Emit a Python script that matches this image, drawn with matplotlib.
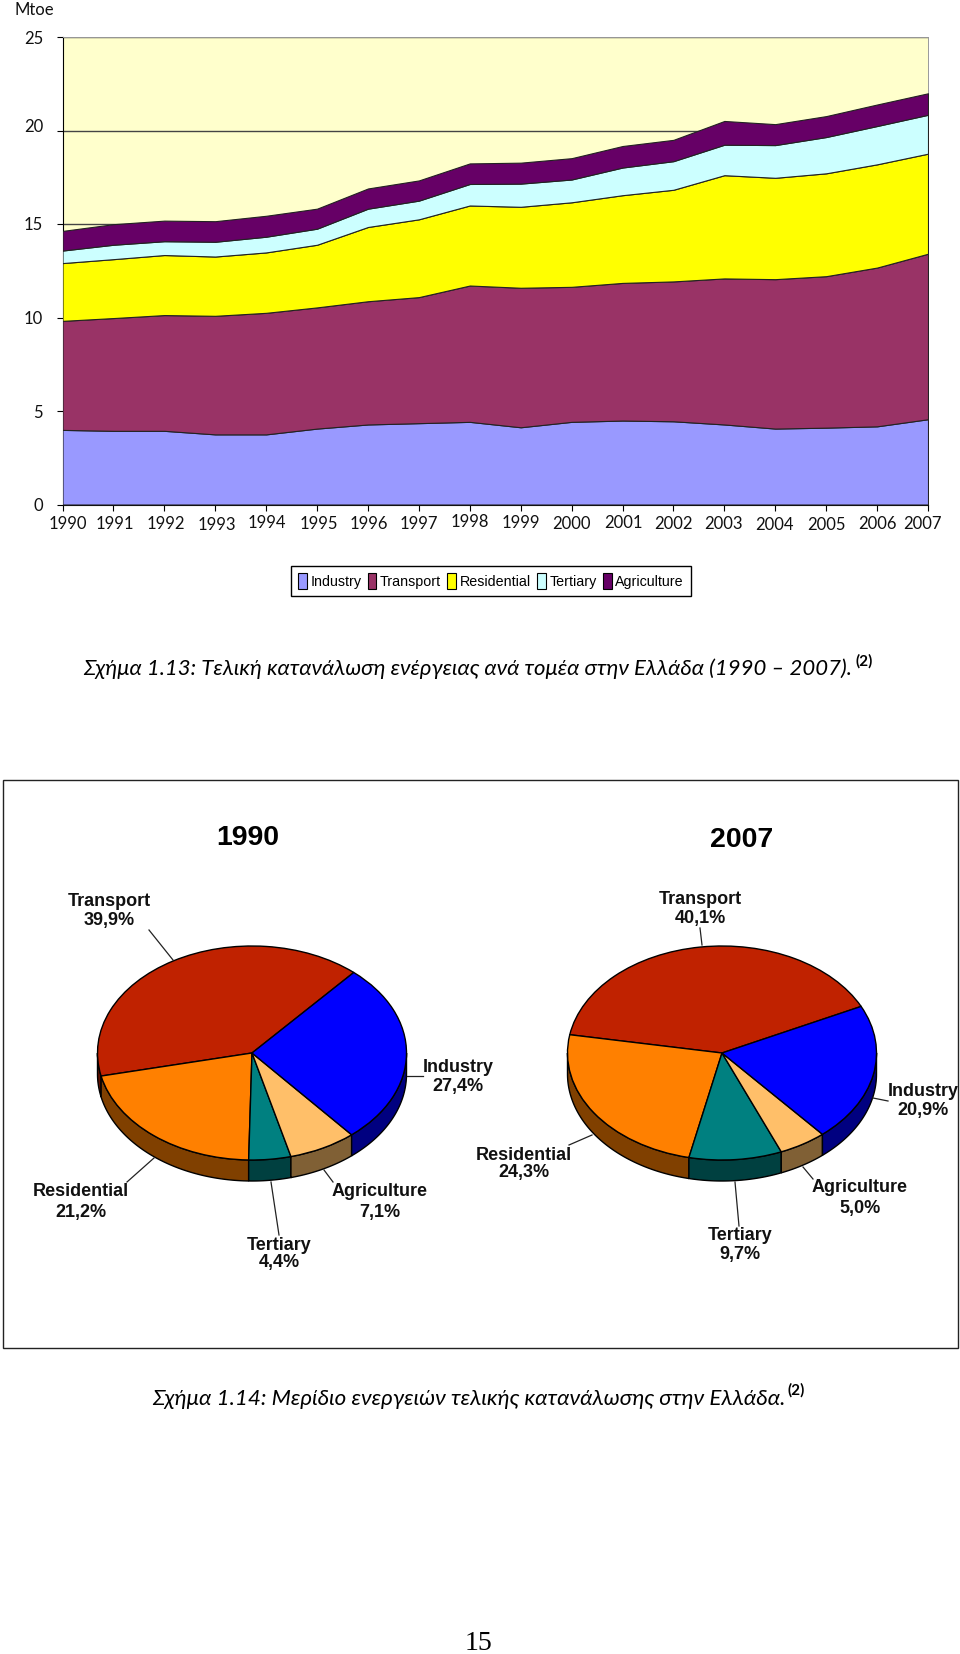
import numpy as np
import matplotlib
matplotlib.use('Agg')
import matplotlib.pyplot as plt
from matplotlib.patches import Patch
from matplotlib.transforms import ScaledTranslation

W, H = 960, 1654

# Figure 1.13 data (Mtoe)
years = list(range(1990, 2008))
industry = [3.99, 3.94, 3.94, 3.75, 3.75, 4.06, 4.28, 4.35, 4.42, 4.13, 4.42, 4.49, 4.45, 4.28, 4.06, 4.11, 4.18, 4.56]
transport = [5.83, 6.03, 6.19, 6.34, 6.50, 6.48, 6.59, 6.74, 7.29, 7.46, 7.22, 7.36, 7.48, 7.81, 7.99, 8.10, 8.49, 8.85]
residential = [3.09, 3.15, 3.21, 3.17, 3.23, 3.35, 3.97, 4.16, 4.28, 4.33, 4.52, 4.69, 4.90, 5.52, 5.42, 5.50, 5.52, 5.35]
tertiary = [0.67, 0.77, 0.74, 0.79, 0.84, 0.86, 0.98, 1.00, 1.15, 1.24, 1.22, 1.48, 1.53, 1.63, 1.75, 1.94, 2.05, 2.08]
agriculture = [1.05, 1.10, 1.10, 1.10, 1.12, 1.07, 1.08, 1.08, 1.10, 1.12, 1.14, 1.15, 1.14, 1.27, 1.12, 1.12, 1.15, 1.15]
sectors = ['Industry', 'Transport', 'Residential', 'Tertiary', 'Agriculture']

# Figure 1.14 data (%)
pie_names = ['Transport', 'Residential', 'Tertiary', 'Agriculture', 'Industry']
shares_1990 = [39.9, 21.2, 4.4, 7.1, 27.4]
shares_2007 = [40.1, 24.3, 9.7, 5.0, 20.9]

area_colors = ['#9999FF', '#993366', '#FFFF00', '#CCFFFF', '#660066']
top_colors = ['#C02200', '#FF8000', '#008080', '#FFBF69', '#0000FF']
wall_colors = ['#601100', '#804000', '#004040', '#806035', '#000080']

CAPTION = ['Lato', 'Open Sans', 'DejaVu Sans']
ARIAL = ['Liberation Sans', 'DejaVu Sans']

fig = plt.figure(figsize=(W / 100, H / 100), dpi=100, facecolor='white')


def px_axes(left, top, right, bottom, **kw):
    return fig.add_axes([left / W, 1 - bottom / H, (right - left) / W, (bottom - top) / H], **kw)


# stacked area
ax = px_axes(62.5, 37, 928, 504.5, facecolor='#FFFFCC')
ax.set_axisbelow(True)
ax.grid(axis='y', color='#444444', lw=1)
ax.stackplot(years, industry, transport, residential, tertiary, agriculture,
             colors=area_colors, edgecolor='#222222', linewidth=0.8, zorder=3)
ax.set_xlim(1990, 2007)
ax.set_ylim(0, 25)
ax.set_xticks(years)
ax.set_yticks([0, 5, 10, 15, 20, 25])
ax.tick_params(axis='x', length=4, pad=4, labelsize=12, width=0.8)
ax.tick_params(axis='y', length=4, pad=10, labelsize=12, width=0.8)
for s in ['top', 'right']:
    ax.spines[s].set_color('#999999')
    ax.spines[s].set_linewidth(0.7)
for lab in ax.get_xticklabels() + ax.get_yticklabels():
    lab.set_family(CAPTION)
    lab.set_color('#111111')

# the scanned tick labels sit a little crooked
x_shift = [5, 1, 2, 2, 1, 2, 1, 0, 0, 0, 0, 1, 0, -1, -1, 0, 0, -6]
y_shift = [0, 0, 0, -1, 1, 0, 0, 0, 2, 1, 0, 1, 0, 0, -1, -1, 0, 0]
for lab, dx, dy in zip(ax.get_xticklabels(), x_shift, y_shift):
    lab.set_transform(lab.get_transform() + ScaledTranslation(dx / 100, dy / 100, fig.dpi_scale_trans))
y_up = [0, 0, 0, 0, 5, 0]
for lab, dy in zip(ax.get_yticklabels(), y_up):
    lab.set_transform(lab.get_transform() + ScaledTranslation(0, dy / 100, fig.dpi_scale_trans))

handles = [Patch(facecolor=c, edgecolor='black', lw=0.8) for c in area_colors]
fig.legend(handles, sectors, loc='center', bbox_to_anchor=(491 / W, 1 - 581 / H), ncol=5,
           frameon=True, fancybox=False, edgecolor='black', framealpha=1,
           prop={'family': ARIAL, 'size': 10.3}, handlelength=0.6, handleheight=1.4,
           handletextpad=0.25, columnspacing=0.45, borderpad=0.5, borderaxespad=0)


def pie_3d(values, start, cx, cy, rx=154.5, ry=107, depth=21):
    a = px_axes(cx - 1.25 * rx, cy - 1.25 * ry, cx + 1.25 * rx, cy + 1.25 * ry, facecolor='none')
    d = depth / ry
    edges = start + np.cumsum([0] + values) * 3.6
    for i in range(len(values)):
        lo, hi = max(edges[i], 180), min(edges[i + 1], 360)
        if hi <= lo:
            continue
        t = np.radians(np.linspace(lo, hi, 80))
        xs = np.r_[np.cos(t), np.cos(t[::-1])]
        ys = np.r_[np.sin(t), np.sin(t[::-1]) - d]
        a.fill(xs, ys, facecolor=wall_colors[i], edgecolor='black', lw=1)
    a.pie(values, startangle=start, colors=top_colors, radius=1,
          wedgeprops={'edgecolor': 'black', 'linewidth': 1})
    a.set_aspect('auto')
    a.set_xlim(-1.25, 1.25)
    a.set_ylim(-1.25, 1.25)


pie_3d(shares_1990, 48.8, 252, 1053)
pie_3d(shares_2007, 25.8, 722, 1053)

# page level overlay in pixel coordinates
ov = fig.add_axes([0, 0, 1, 1], facecolor='none', zorder=10)
ov.set_xlim(0, W)
ov.set_ylim(H, 0)
ov.axis('off')

ov.text(15, 10, 'Mtoe', family=CAPTION, fontsize=12, va='center', color='#111111')
ov.add_patch(plt.Rectangle((3, 780), 955, 568, fill=False, edgecolor='#222222', lw=1))

ov.text(83, 669, 'Σχήμα 1.13: Τελική κατανάλωση ενέργειας ανά τομέα στην Ελλάδα (1990 – 2007).',
        family=CAPTION, style='italic', fontsize=15.9, va='center', ha='left', color='black')
ov.text(855, 661, '(2)', family=CAPTION, weight='bold', fontsize=11, va='center')
ov.text(152, 1399, 'Σχήμα 1.14: Μερίδιο ενεργειών τελικής κατανάλωσης στην Ελλάδα.',
        family=CAPTION, style='italic', fontsize=16.1, va='center', ha='left', color='black')
ov.text(787, 1390, '(2)', family=CAPTION, weight='bold', fontsize=11, va='center')
ov.text(478, 1644, '15', family=['Liberation Serif', 'DejaVu Serif'], fontsize=20, ha='center', va='center')

ov.text(248, 838, '1990', family=ARIAL, weight='bold', fontsize=20.5, ha='center', va='center')
ov.text(742, 840, '2007', family=ARIAL, weight='bold', fontsize=20.5, ha='center', va='center')


def pie_label(name, value, x, y1, y2, line):
    ov.text(x, y1 + 1, name, family=ARIAL, weight='bold', fontsize=13, ha='center', va='center', color='#111111')
    ov.text(x, y2 + 1, f'{value:.1f}%'.replace('.', ','), family=ARIAL, weight='bold', fontsize=13,
            ha='center', va='center', color='#111111')
    ov.plot(line[0], line[1], color='#222222', lw=0.9)


pie_label('Transport', shares_1990[0], 109, 900, 919, ([149, 173], [930, 960]))
pie_label('Residential', shares_1990[1], 81, 1191, 1211, ([154, 127], [1158, 1182]))
pie_label('Tertiary', shares_1990[2], 279, 1244, 1262, ([271, 279], [1182, 1235]))
pie_label('Agriculture', shares_1990[3], 380, 1191, 1211, ([324, 333], [1170, 1182]))
pie_label('Industry', shares_1990[4], 458, 1066, 1085, ([407, 423], [1076, 1076]))

pie_label('Transport', shares_2007[0], 700, 899, 918, ([700, 702], [928, 945]))
pie_label('Residential', shares_2007[1], 524, 1154, 1172, ([592, 569], [1135, 1145]))
pie_label('Tertiary', shares_2007[2], 740, 1234, 1253, ([735, 739], [1182, 1226]))
pie_label('Agriculture', shares_2007[3], 860, 1187, 1207, ([803, 813], [1167, 1179]))
pie_label('Industry', shares_2007[4], 923, 1090, 1109, ([873, 888], [1098, 1101]))

fig.savefig('out.png', dpi=100)
